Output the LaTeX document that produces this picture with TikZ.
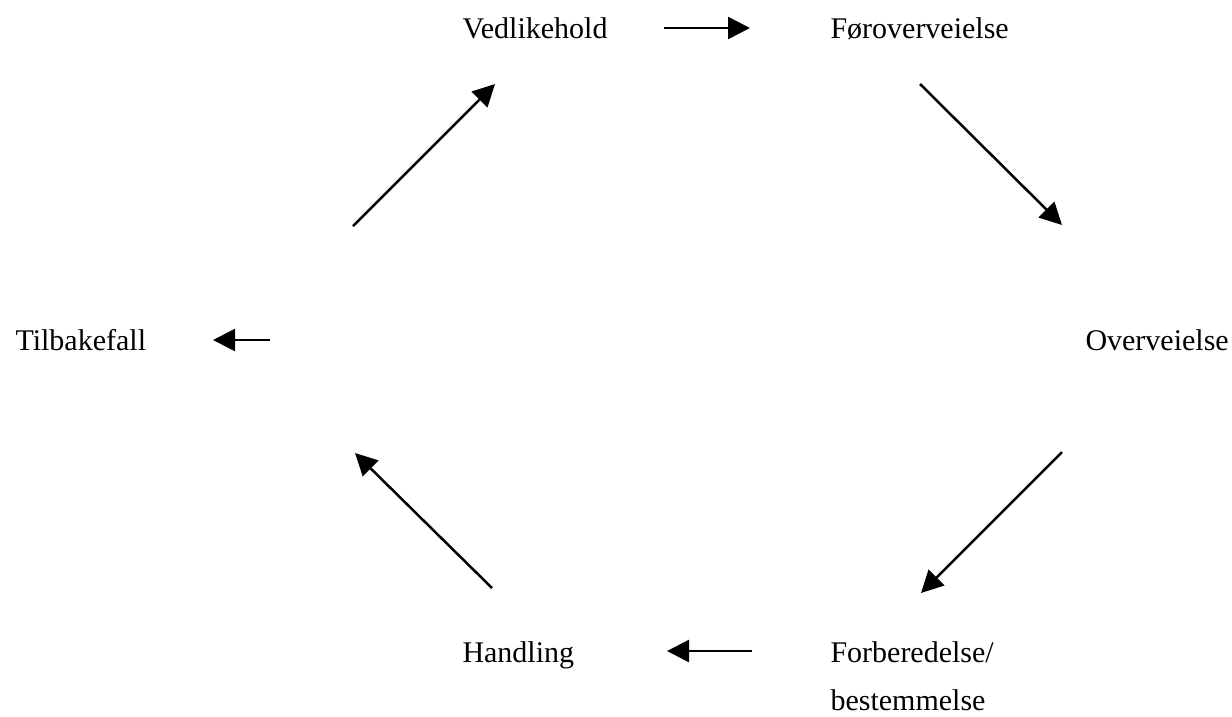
\documentclass[tikz,border=0pt]{standalone}
\usepackage{fontspec}
\setmainfont{Liberation Serif}
\usetikzlibrary{arrows.meta}

\begin{document}
\begin{tikzpicture}
      [x=0.4pt,y=-0.4pt,
       every node/.style={anchor=base west,inner sep=0pt,font=\fontsize{12}{14}\selectfont},
       pil/.style={line width=1pt,-{Triangle[length=8.8pt,width=8.8pt]}}]
      \useasboundingbox (0,0) rectangle (1232,716);
      \node (vedl) at (462,38) {Vedlikehold};
      \node (forov) at (830,38) {Føroverveielse};
      \node (overv) at (1085,350) {Overveielse};
      \node (forb) at (830,662) {Forberedelse/};
      \node (best) at (830,710) {bestemmelse};
      \node (handl) at (462,662) {Handling};
      \node (tilb) at (15,350) {Tilbakefall};

      \coordinate (a1) at (664,28);  \coordinate (b1) at (750,28);
      \coordinate (a2) at (920,84);  \coordinate (b2) at (1062,225);
      \coordinate (a3) at (1062,452); \coordinate (b3) at (921,593);
      \coordinate (a4) at (752,651); \coordinate (b4) at (667,651);
      \coordinate (a5) at (492,588); \coordinate (b5) at (355,453);
      \coordinate (a6) at (270,340); \coordinate (b6) at (213,340);
      \coordinate (a7) at (353,226); \coordinate (b7) at (495,84);

      \foreach \from/\to in {a1/b1, a2/b2, a3/b3, a4/b4, a5/b5, a6/b6, a7/b7}
      \draw [pil] (\from) -- (\to);
\end{tikzpicture}
\end{document}
